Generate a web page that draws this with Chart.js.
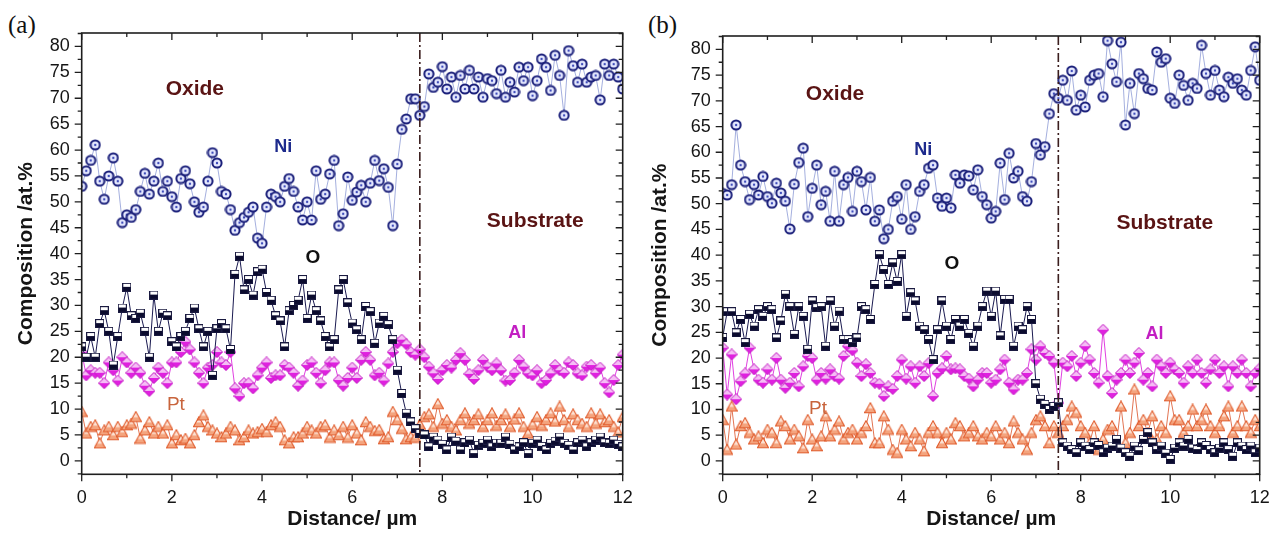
<!DOCTYPE html>
<html>
<head>
<meta charset="utf-8">
<script src="https://cdn.jsdelivr.net/npm/chart.js@4.4.1/dist/chart.umd.min.js"></script>
<style>
  body { margin: 0; background: #fff; }
  #wrap { position: relative; width: 1269px; height: 533px; }
  .panel { position: absolute; top: 0; }
  .tag { position: absolute; font-family: "Liberation Serif", "Times New Roman", serif; font-size: 25px; color: #111; }
</style>
</head>
<body>
<div id="wrap">
  <div class="tag" style="left:8px;top:11px">(a)</div>
  <canvas id="chartA" class="panel" width="634" height="533" style="left:0"></canvas>
  <div class="tag" style="left:648px;top:11px">(b)</div>
  <canvas id="chartB" class="panel" width="635" height="533" style="left:634px"></canvas>
</div>
<script>
// 거리 (µm) - 0.1 간격
const distance = [
  0, 0.1, 0.2, 0.3, 0.4, 0.5, 0.6, 0.7, 0.8, 0.9,
  1, 1.1, 1.2, 1.3, 1.4, 1.5, 1.6, 1.7, 1.8, 1.9,
  2, 2.1, 2.2, 2.3, 2.4, 2.5, 2.6, 2.7, 2.8, 2.9,
  3, 3.1, 3.2, 3.3, 3.4, 3.5, 3.6, 3.7, 3.8, 3.9,
  4, 4.1, 4.2, 4.3, 4.4, 4.5, 4.6, 4.7, 4.8, 4.9,
  5, 5.1, 5.2, 5.3, 5.4, 5.5, 5.6, 5.7, 5.8, 5.9,
  6, 6.1, 6.2, 6.3, 6.4, 6.5, 6.6, 6.7, 6.8, 6.9,
  7, 7.1, 7.2, 7.3, 7.4, 7.5, 7.6, 7.7, 7.8, 7.9,
  8, 8.1, 8.2, 8.3, 8.4, 8.5, 8.6, 8.7, 8.8, 8.9,
  9, 9.1, 9.2, 9.3, 9.4, 9.5, 9.6, 9.7, 9.8, 9.9,
  10, 10.1, 10.2, 10.3, 10.4, 10.5, 10.6, 10.7, 10.8, 10.9,
  11, 11.1, 11.2, 11.3, 11.4, 11.5, 11.6, 11.7, 11.8, 11.9,
  12
];

// (a) 조성 데이터 (at.%)
const niA = [
  53, 56, 58, 61, 54, 50.5, 55, 58.5, 54, 46,
  47.5, 47, 48.5, 52, 55.5, 51.5, 54, 57.5, 52, 54,
  51, 49, 54.5, 56, 53.5, 50, 48, 49, 54, 59.5,
  57.5, 52, 51.5, 48.5, 44.5, 46, 47, 48, 49, 43,
  42, 49, 51.5, 51, 50, 53, 54.5, 52, 49, 46.5,
  50, 46.5, 56, 50.5, 51.5, 55.4, 58, 45.4, 47.7, 54.8,
  50.3, 51.9, 53.2, 50, 53.6, 58, 54.1, 56.4, 52.8, 45.4,
  57.3, 64, 66, 69.9, 69.9, 66.7, 68.4, 74.7, 72.1, 73.1,
  76.1, 71.8, 74.1, 70.2, 74.4, 71.8, 75.4, 71.8, 74.1, 70.2,
  73.8, 73.4, 70.9, 75.4, 70.2, 73.1, 71.2, 76, 73.4, 76,
  70.5, 73.4, 77.6, 76, 71.5, 78.3, 74.4, 66.7, 79.2, 76.3,
  73.1, 76.6, 73.1, 74.1, 74.4, 69.7, 76.6, 74.4, 76.6, 74.1,
  71.8
];
const oA = [
  22, 20, 24, 20, 26.5, 29, 25, 18.5, 24, 29.5,
  33.5, 28, 27.5, 28.5, 25, 20, 32, 25, 28.5, 28,
  23, 22, 24, 25, 27.5, 29.5, 25.5, 22, 25, 16.5,
  25.5, 26.5, 25.5, 21.5, 36, 39.5, 33, 35, 32, 36.5,
  37, 32.5, 31, 28, 27, 22, 29, 30, 31, 35,
  27.5, 32, 29, 27, 24, 22, 23.4, 33, 35, 30.5,
  26.6, 25.3, 23.4, 29.8, 28.8, 22.7, 26.6, 27.9, 26.3, 23.4,
  17.5, 13, 9.2, 7.5, 6.2, 5.3, 5, 2.7, 4.6, 4,
  3.2, 2.1, 4.6, 3.8, 2.1, 3.5, 4, 1.4, 3, 3.4,
  4, 2.7, 3.4, 3.4, 4.6, 3.2, 2.1, 2.7, 3.5, 1.4,
  3.4, 4, 2.8, 2.1, 3.4, 3.8, 4.6, 3.4, 3, 2.1,
  3.5, 4, 2.7, 3.5, 4, 4.6, 3.5, 3.4, 4, 3.2,
  2.7
];
const alA = [
  21, 16.5, 17.5, 17, 17, 15, 19, 17.5, 15.5, 20,
  19, 17, 18, 17, 14.5, 13.5, 16, 18, 17, 15,
  19, 19, 21, 23, 21.5, 19, 17, 15, 18, 18.5,
  21, 19, 18.5, 21, 14, 12.5, 15, 15, 14, 16.5,
  18, 19, 16, 16.5, 16.5, 18.5, 18, 17, 14.5, 15.5,
  18.5, 19, 17, 15, 17.5, 19, 19, 15.6, 14.5, 16,
  18, 16, 19.5, 21, 19.5, 16.5, 17, 15.5, 18.8, 21,
  22.7, 23.4, 22.5, 21, 20.5, 21.5, 20, 18.2, 16.9, 15.8,
  17.5, 18.5, 18, 19.5, 20.8, 19.5, 16.8, 15.8, 17.5, 19.5,
  18.2, 17.5, 18.8, 17.5, 15.5, 15.6, 17, 19.5, 18.2, 16.9,
  16.5, 17.5, 15, 15.6, 16.9, 18.5, 17.5, 17, 19, 18.5,
  16.9, 16.5, 18.2, 18.5, 17, 18, 15, 13.2, 15.6, 18.5,
  20.5
];
const ptA = [
  9.5, 5.3, 6.6, 6.9, 3.4, 5.9, 6.6, 5, 6.6, 5.6,
  6.9, 7.2, 8.5, 4.3, 5.9, 7.5, 5.3, 6.6, 5.3, 6.9,
  3.4, 5, 4, 4.3, 3.4, 5, 7.5, 8.8, 6.6, 5.9,
  5.3, 4.6, 5.3, 6.6, 5.9, 4, 4.6, 5.9, 5.3, 5.6,
  6.2, 5.6, 6.9, 7.5, 6.6, 4, 3.4, 4.6, 4.6, 5.3,
  6.6, 5.9, 5.3, 6.6, 6.9, 4.5, 5.9, 5, 6.6, 4.5,
  6.9, 5.3, 4, 7.5, 6.6, 5.8, 6, 4.2, 4.6, 9.5,
  7.9, 6.2, 4.2, 4.6, 4.5, 7, 8.5, 9, 6.6, 11,
  7.2, 7.9, 6.6, 5.9, 7.9, 9.2, 7.2, 7.9, 9, 6.6,
  7.9, 9.2, 6.8, 7.9, 9, 6.6, 8, 9.2, 6.6, 5.3,
  7, 8.5, 6.8, 7.9, 9.2, 7.6, 10.5, 7.9, 6.6, 9,
  7.9, 7.2, 6.6, 9.2, 7.2, 9, 7.5, 7.9, 6.6, 5.5,
  8.5
];

// (b) 조성 데이터 (at.%)
const niB = [
  52, 51.7, 53.7, 65.3, 57.5, 54.3, 50.8, 53.7, 51.7, 55.3,
  51.4, 50.1, 54, 52.1, 50.5, 45.1, 53.8, 58, 60.8, 47.5,
  53, 57.5, 49.8, 52.4, 46.6, 56.3, 46.6, 53.7, 55.1, 48.5,
  56.3, 54.3, 48.8, 55.1, 46.6, 48.8, 43.2, 45, 50.5, 51.4,
  47, 53.7, 45, 47.5, 52.4, 53.7, 56.9, 57.5, 51.1, 49.5,
  51.1, 49.2, 55.6, 54, 55.6, 55.4, 52.7, 56.6, 51.4, 49.8,
  47.2, 48.5, 57.9, 50.8, 59.8, 55, 56.3, 51.4, 50.5, 54.3,
  61.7, 59.5, 61.1, 67.5, 71.4, 70.5, 74, 70.1, 75.8, 68.2,
  71.1, 68.8, 74, 75, 75.3, 70.8, 81.7, 77.2, 73.7, 81.4,
  65.3, 73.4, 67.5, 75.3, 74.3, 72.4, 72.1, 79.5, 77.5, 78.2,
  70.5, 69.5, 75, 73, 70.1, 73.4, 72.4, 80.8, 75.3, 71.1,
  75.9, 72.1, 70.8, 74.6, 73.4, 74.3, 72.1, 71.1, 75.9, 80.5,
  74
];
const oB = [
  24, 29, 29, 24.9, 27.5, 23, 28.5, 26.2, 29.4, 28.1,
  30, 29.4, 23.9, 27.2, 32.4, 30, 24.6, 30, 28.1, 21.7,
  31.1, 29.8, 30, 22.3, 31.1, 26.2, 29.1, 23.6, 23.6, 23,
  23.9, 30, 29.4, 27.5, 34.3, 40.1, 37.2, 34.3, 38.5, 34.9,
  40.1, 28.1, 32.7, 31.1, 26.2, 25.5, 23.6, 19.7, 25.5, 31.1,
  26.2, 23.6, 27.5, 26.2, 27.5, 24.8, 22.3, 26.2, 30, 33,
  28.1, 33, 24.3, 31.4, 31.4, 22.3, 26.2, 25.5, 30, 27.5,
  15, 12, 11, 10, 10.6, 11.3, 3.5, 2.9, 2.2, 1.6,
  3.5, 2.9, 2.2, 3.5, 3, 1.6, 2.5, 2.9, 4.2, 2.5,
  1.6, 0.9, 2.9, 2, 4.2, 5.5, 3.5, 2.2, 2.9, 1.5,
  0.3, 2.5, 3.5, 2.9, 4.2, 2.5, 2.2, 3.5, 3, 2.2,
  1.6, 2.5, 3.5, 2.2, 0.9, 3.5, 2.9, 2.2, 2.9, 1.6,
  2.5
];
const alB = [
  22, 12.9, 20.7, 12, 15.5, 17, 22, 17.8, 15.8, 15.2,
  17.8, 15.8, 20, 15.8, 14.2, 15.2, 17.1, 14.5, 18.4, 20.4,
  20, 15.8, 17.1, 16, 17.8, 16.5, 16, 20.4, 22.3, 21.5,
  19.1, 16.5, 18.8, 17.1, 15.2, 15, 12.6, 14.5, 14, 16.5,
  19.7, 16, 18.4, 15.2, 18.4, 16.5, 19, 12.6, 17.1, 18,
  20.4, 17.8, 18, 17.8, 16.5, 16, 14.5, 15.8, 17.1, 17.1,
  15.2, 15.8, 17.8, 19.7, 15.2, 13.9, 15.8, 15.8, 17.1, 21.7,
  19.7, 22.3, 21, 20.4, 19.1, 11.3, 19.1, 18.4, 20.4, 16.5,
  19.1, 22.3, 19.7, 17.1, 15.2, 25.5, 16.5, 13.2, 15.8, 17.1,
  19.7, 17.1, 19.1, 21, 15.8, 17.1, 14.5, 19.7, 18.4, 17.1,
  19.1, 17.8, 17.1, 15.2, 18.4, 17.1, 19.7, 17.1, 15.2, 17.8,
  19.7, 17.1, 18.4, 14.5, 18.4, 17.1, 19.7, 17.1, 14.5, 17.1,
  18
];
const ptB = [
  8, 2.2, 10.6, 3.2, 6.8, 7.4, 5.5, 4.2, 4.8, 3.5,
  6.1, 5.5, 3.5, 7.7, 6.8, 4.2, 6.1, 4.8, 2.5, 8,
  4.2, 2.9, 4.8, 8.7, 4.8, 6.1, 7.7, 4.2, 5.5, 6.1,
  4.2, 5.5, 6.8, 10.3, 3.5, 3.5, 8.7, 6.1, 2.2, 1.6,
  6.1, 4.2, 2.9, 5.5, 4.2, 1.9, 5.5, 6.8, 5.5, 3.5,
  5.5, 4.2, 7.4, 6.8, 4.8, 5.5, 6.8, 4.8, 4.2, 5.5,
  4.8, 6.8, 4.2, 5.5, 3.5, 7.7, 5.5, 4.2, 2.2, 5.5,
  8, 8.7, 6.8, 3.5, 6.8, 5.5, 6.8, 8, 10.6, 9.4,
  6.8, 5.5, 3.5, 6.8, 2.2, 4.2, 6.1, 6.8, 3.5, 10.6,
  3.5, 5.5, 13.9, 6.8, 8, 5.5, 8.7, 4.2, 6.8, 5.5,
  12.6, 8, 8, 5.5, 6.8, 10, 6.8, 8, 10, 6.8,
  5.5, 6.8, 8.7, 10.6, 5.5, 6.8, 10.6, 6.8, 5.5, 8,
  6.8
];

// 축 눈금
const xMajorTicks = [0, 2, 4, 6, 8, 10, 12];
const yMajorTicks = [0, 5, 10, 15, 20, 25, 30, 35, 40, 45, 50, 55, 60, 65, 70, 75, 80];
const interfaceAt = 7.5; // 산화물/기판 경계

// 그림 안의 글자 (위치는 데이터 좌표)
const notesA = [
  { text: 'Oxide', x: 2.51, y: 71.7, color: '#5a1414', size: 21, bold: true },
  { text: 'Ni', x: 4.47, y: 60.5, color: '#1d2a8c', size: 18, bold: true },
  { text: 'O', x: 5.13, y: 39.2, color: '#111111', size: 19, bold: true },
  { text: 'Substrate', x: 10.06, y: 46.2, color: '#5a1414', size: 21, bold: true },
  { text: 'Al', x: 9.66, y: 24.7, color: '#c21fc2', size: 18, bold: true },
  { text: 'Pt', x: 2.09, y: 10.8, color: '#c8643c', size: 19, bold: false }
];
const notesB = [
  { text: 'Oxide', x: 2.51, y: 71.3, color: '#5a1414', size: 21, bold: true },
  { text: 'Ni', x: 4.48, y: 60.5, color: '#1d2a8c', size: 18, bold: true },
  { text: 'O', x: 5.12, y: 38.4, color: '#111111', size: 19, bold: true },
  { text: 'Substrate', x: 9.88, y: 46.2, color: '#5a1414', size: 21, bold: true },
  { text: 'Al', x: 9.65, y: 24.7, color: '#c21fc2', size: 18, bold: true },
  { text: 'Pt', x: 2.13, y: 10.2, color: '#c8643c', size: 19, bold: false }
];

// 마커 모양 만들기
function marker(kind) {
  const c = document.createElement('canvas');
  const s = kind === 'O' ? 9 : 12;
  c.width = s; c.height = s;
  const g = c.getContext('2d');
  if (kind === 'Ni') {
    g.beginPath(); g.arc(6, 6, 4.6, 0, Math.PI * 2);
    g.fillStyle = '#e6e9ff'; g.fill();
    g.lineWidth = 2; g.strokeStyle = '#1a1f7a'; g.stroke();
    g.beginPath(); g.arc(6, 6, 1.2, 0, Math.PI * 2);
    g.fillStyle = '#3a48b8'; g.fill();
  } else if (kind === 'O') {
    g.fillStyle = '#ffffff'; g.fillRect(0.5, 0.5, 8, 3.5);
    g.fillStyle = '#0b0b2e'; g.fillRect(0.5, 4, 8, 4.5);
    g.lineWidth = 1; g.strokeStyle = '#1a1a40'; g.strokeRect(0.5, 0.5, 8, 8);
  } else if (kind === 'Al') {
    g.beginPath();
    g.moveTo(6, 0.5); g.lineTo(11.5, 6); g.lineTo(6, 11.5); g.lineTo(0.5, 6); g.closePath();
    g.fillStyle = '#f5bdf5'; g.fill();
    g.save(); g.clip(); g.fillStyle = '#e020e0'; g.fillRect(0, 6, 12, 6); g.restore();
    g.lineWidth = 1; g.strokeStyle = '#c010c0'; g.stroke();
  } else {
    g.beginPath();
    g.moveTo(6, 0.8); g.lineTo(11.5, 10.8); g.lineTo(0.5, 10.8); g.closePath();
    g.fillStyle = '#fde3d4'; g.fill();
    g.save(); g.clip(); g.fillStyle = '#f4a47e'; g.fillRect(0, 6.5, 12, 5); g.restore();
    g.lineWidth = 1.1; g.strokeStyle = '#e05a2a'; g.stroke();
  }
  return c;
}

const markers = { Ni: marker('Ni'), O: marker('O'), Al: marker('Al'), Pt: marker('Pt') };
const lineColors = { Ni: '#8d9bd6', O: '#1a1a50', Al: '#e040e0', Pt: '#e27452' };

function toPoints(values) {
  return distance.map((d, i) => ({ x: d, y: values[i] }));
}

function makeSet(name, values) {
  return {
    label: name,
    data: toPoints(values),
    showLine: true,
    borderColor: lineColors[name],
    borderWidth: name === 'Ni' ? 0.8 : 1,
    pointStyle: markers[name],
    pointRadius: 5,
    tension: 0
  };
}

// 테두리, 눈금, 경계선, 글자 그리기
const decorPlugin = {
  id: 'decor',
  afterDatasetsDraw(chart, args, opts) {
    const { ctx, chartArea: a, scales: { x, y } } = chart;
    ctx.save();
    // 경계선 (일점쇄선)
    const bx = x.getPixelForValue(interfaceAt);
    ctx.strokeStyle = '#3b1e1e';
    ctx.lineWidth = 1.6;
    ctx.setLineDash([9, 3, 2, 3]);
    ctx.beginPath(); ctx.moveTo(bx, a.top); ctx.lineTo(bx, a.bottom); ctx.stroke();
    ctx.setLineDash([]);
    // 글자
    opts.notes.forEach(n => {
      ctx.font = (n.bold ? 'bold ' : '') + n.size + 'px "Liberation Sans", Arial, sans-serif';
      ctx.fillStyle = n.color;
      ctx.textAlign = 'center';
      ctx.textBaseline = 'middle';
      ctx.fillText(n.text, x.getPixelForValue(n.x), y.getPixelForValue(n.y));
    });
    ctx.restore();
  },
  afterDraw(chart) {
    const { ctx, chartArea: a, scales: { x, y } } = chart;
    ctx.save();
    ctx.strokeStyle = '#1e1e1e';
    ctx.lineWidth = 1.6;
    ctx.strokeRect(a.left, a.top, a.right - a.left, a.bottom - a.top);
    ctx.lineWidth = 1.3;
    ctx.beginPath();
    for (let v = 0; v <= 12; v++) {
      const px = x.getPixelForValue(v);
      const len = xMajorTicks.includes(v) ? 7 : 4;
      ctx.moveTo(px, a.bottom); ctx.lineTo(px, a.bottom + len);
      ctx.moveTo(px, a.top); ctx.lineTo(px, a.top + len);
    }
    for (let v = -2.5; v <= 82.5; v += 2.5) {
      if (v < y.min || v > y.max) continue;
      const py = y.getPixelForValue(v);
      const len = yMajorTicks.includes(v) ? 7 : 4;
      ctx.moveTo(a.left, py); ctx.lineTo(a.left - len, py);
      ctx.moveTo(a.right, py); ctx.lineTo(a.right - len, py);
    }
    ctx.stroke();
    ctx.restore();
  }
};

const tickFont = { family: '"Liberation Sans", Arial, sans-serif', size: 18 };
const titleFont = { family: '"Liberation Sans", Arial, sans-serif', size: 21, weight: 'bold' };

function makeChart(id, sets, notes, box) {
  new Chart(document.getElementById(id), {
    type: 'scatter',
    data: { datasets: sets },
    options: {
      responsive: false,
      animation: false,
      events: [],
      layout: { padding: { left: 0, top: box.top, right: box.right, bottom: 0 } },
      plugins: {
        legend: { display: false },
        tooltip: { enabled: false },
        decor: { notes: notes }
      },
      scales: {
        x: {
          type: 'linear',
          min: 0,
          max: 12,
          grid: { display: false, drawTicks: false },
          border: { display: false },
          ticks: { stepSize: 2, includeBounds: false, padding: 13, color: '#151515', font: tickFont },
          title: { display: true, text: 'Distance/ µm', color: '#151515', font: titleFont, padding: { top: 0, bottom: 1 } },
          afterFit: s => { s.height = box.xHeight; s.paddingLeft = 0; s.paddingRight = 0; }
        },
        y: {
          min: -2.6,
          max: 82.6,
          grid: { display: false, drawTicks: false },
          border: { display: false },
          ticks: {
            stepSize: 5,
            includeBounds: false,
            padding: 12,
            color: '#151515',
            font: tickFont,
            callback: v => (yMajorTicks.includes(v) ? v : '')
          },
          title: { display: true, text: 'Composition /at.%', color: '#151515', font: titleFont, padding: { top: 14, bottom: 0 } },
          afterFit: s => { s.width = box.yWidth; s.paddingTop = 0; s.paddingBottom = 0; }
        }
      }
    },
    plugins: [decorPlugin]
  });
}

// 그리기 순서: 앞쪽 데이터셋이 위에 그려짐
makeChart('chartA',
  [makeSet('Ni', niA), makeSet('O', oA), makeSet('Pt', ptA), makeSet('Al', alA)],
  notesA,
  { top: 33, right: 11.3, yWidth: 81.7, xHeight: 58.7 });

makeChart('chartB',
  [makeSet('Ni', niB), makeSet('O', oB), makeSet('Pt', ptB), makeSet('Al', alB)],
  notesB,
  { top: 36, right: 9.3, yWidth: 88.7, xHeight: 58.7 });
</script>
</body>
</html>
